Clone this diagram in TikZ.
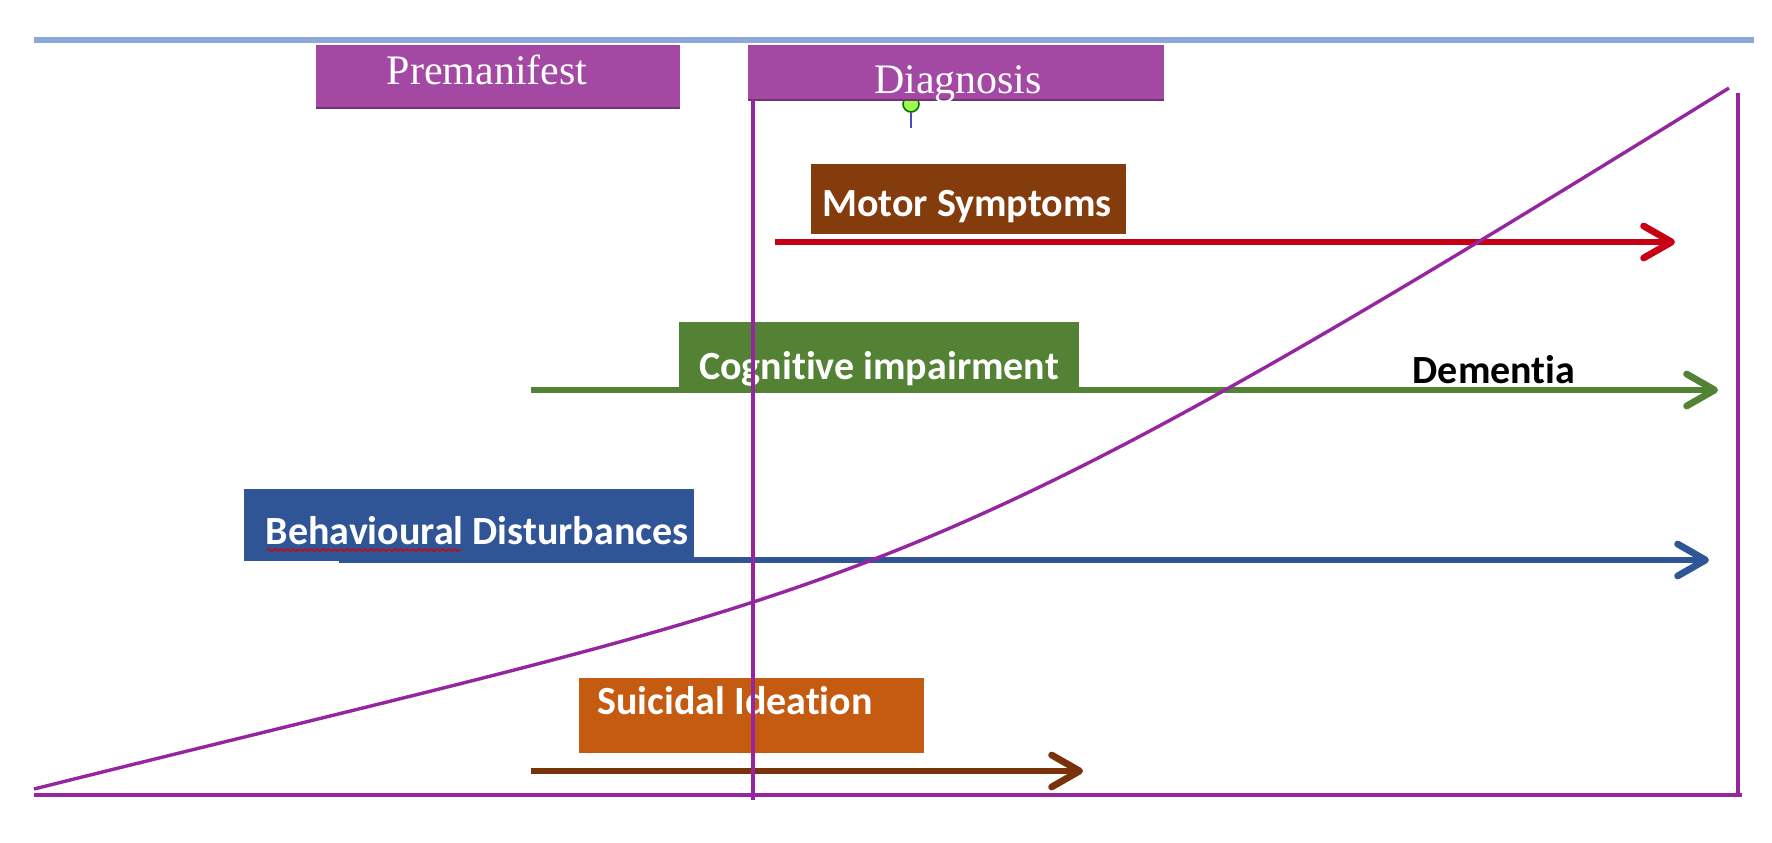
\documentclass[tikz,border=0pt]{standalone}
\usepackage{fontspec}
\setmainfont{Liberation Serif}
\newfontfamily\labfont[Ligatures={NoCommon,NoRequired,NoContextual}]{Carlito}
\usetikzlibrary{arrows.meta,decorations.pathmorphing}
\definecolor{topblue}{RGB}{141,168,218}
\definecolor{purpbox}{RGB}{163,73,164}
\definecolor{purpline}{RGB}{150,38,160}
\definecolor{motorbox}{RGB}{132,60,12}
\definecolor{redline}{RGB}{200,0,20}
\definecolor{greenbox}{RGB}{84,130,53}
\definecolor{bluebox}{RGB}{47,85,151}
\definecolor{orangebox}{RGB}{197,90,17}
\definecolor{brownline}{RGB}{122,50,10}
\tikzset{
  boxnode/.style={rectangle, inner sep=0pt, outer sep=0pt},
  phasetext/.style={text=white, inner sep=0pt, font=\fontsize{21}{25}\selectfont},
  labtext/.style={text=white, inner sep=0pt, font=\labfont\bfseries\fontsize{20}{24}\selectfont},
  trackline/.style={line width=2.8pt, -{Straight Barb[length=14pt,width=16pt,line width=3.4pt,round]}},
  frameline/.style={draw=purpline, line width=1.9pt}
}
\begin{document}
\begin{tikzpicture}[x=0.5pt,y=-0.5pt]
\useasboundingbox (0,0) rectangle (1772,842);
\fill[white] (0,0) rectangle (1772,842);

% top blue rule
\coordinate (tl) at (34,40);
\coordinate (tr) at (1754,40);
\draw[topblue, line width=3.2pt] (tl) -- (tr);

% pin marker (partly hidden behind the Diagnosis box)
\coordinate (pinb) at (911,128);
\node[circle, draw=green!45!black, fill=green!55!yellow!70, inner sep=0pt, minimum size=8pt, line width=0.8pt] (pin) at (911,104) {};
\draw[gray!60!blue, line width=0.8pt] (pin.south) -- (pinb);

% phase boxes
\node[boxnode, fill=purpbox, minimum width=182pt, minimum height=31.5pt] (pre) at (498,76.5) {};
\node[boxnode, fill=purpbox, minimum width=208pt, minimum height=27.5pt] (diag) at (956,72.5) {};
\draw[purpbox!70!black, line width=1pt] (pre.south west) -- (pre.south east);
\draw[purpbox!70!black, line width=1pt] (diag.south west) -- (diag.south east);
\node[phasetext] (pretext) at (487,70) {Premanifest};
\node[phasetext] (diagtext) at (958,84) {Diagnosis};

% motor symptoms
\node[boxnode, fill=motorbox, minimum width=157.5pt, minimum height=35pt] (motor) at (968.5,199) {};
\node[labtext] (motortext) at (967,207) {Motor Symptoms};
\coordinate (m1) at (775,242);
\coordinate (m2) at (1675,242);
\draw[trackline, redline] (m1) -- (m2);

% cognitive impairment
\coordinate (c1) at (531,390);
\coordinate (c2) at (1718,390);
\draw[trackline, greenbox] (c1) -- (c2);
\node[boxnode, fill=greenbox, minimum width=200pt, minimum height=34pt] (cog) at (879,356) {};
\node[labtext] (cogtext) at (879,369) {Cognitive impairment};
\node[labtext, text=black] (dem) at (1494,370) {Dementia};

% behavioural disturbances
\node[boxnode, fill=bluebox, minimum width=225pt, minimum height=36pt] (beh) at (469,525) {};
\node[labtext] (behtext) at (477,531) {Behavioural Disturbances};
\coordinate (w1) at (267,550);
\coordinate (w2) at (461,550);
\draw[red!85!black, line width=0.7pt, decorate, decoration={snake, amplitude=0.5pt, segment length=3pt}] (w1) -- (w2);
\coordinate (b1) at (339,560);
\coordinate (b2) at (1709,560);
\draw[trackline, bluebox] (b1) -- (b2);

% suicidal ideation
\node[boxnode, fill=orangebox, minimum width=172.5pt, minimum height=37.5pt] (sui) at (751.5,715.5) {};
\node[labtext] (suitext) at (735,701) {Suicidal Ideation};
\coordinate (s1) at (531,771);
\coordinate (s2) at (1083,771);
\draw[trackline, brownline] (s1) -- (s2);

% frame lines
\coordinate (v1) at (753,100);
\coordinate (v2) at (753,800);
\coordinate (bl) at (34,795);
\coordinate (br) at (1742,795);
\coordinate (r1) at (1738,93);
\coordinate (r2) at (1738,795);
\draw[frameline] (v1) -- (v2);
\draw[frameline] (bl) -- (br);
\draw[frameline] (r1) -- (r2);

% progression curve
\coordinate (k0) at (34,789);
\coordinate (k3) at (1729,88);
\draw[purpline, line width=1.7pt] (k0) .. controls (882,577) and (881,614) .. (k3);
\end{tikzpicture}
\end{document}
